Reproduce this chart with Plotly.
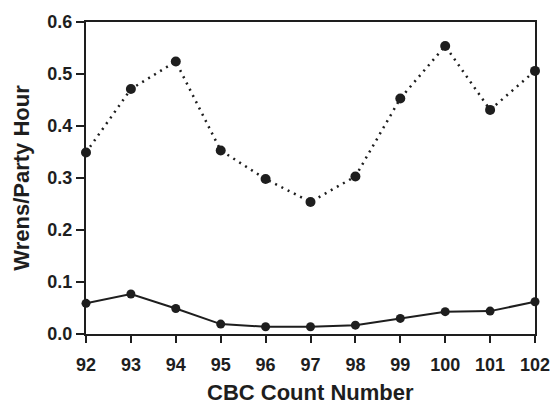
import plotly.graph_objects as go

counts = [92, 93, 94, 95, 96, 97, 98, 99, 100, 101, 102]
upper_series = [0.349, 0.471, 0.524, 0.353, 0.298, 0.254, 0.303, 0.453, 0.554, 0.431, 0.506]
lower_series = [0.059, 0.077, 0.049, 0.019, 0.014, 0.014, 0.017, 0.030, 0.043, 0.044, 0.062]
y_ticks = [0.0, 0.1, 0.2, 0.3, 0.4, 0.5, 0.6]
y_tick_labels = ["0.0", "0.1", "0.2", "0.3", "0.4", "0.5", "0.6"]
x_title = "CBC Count Number"
y_title = "Wrens/Party Hour"

ink = "#1e1e1e"
fig = go.Figure()
fig.add_trace(go.Scatter(x=counts, y=upper_series, mode="lines+markers",
                         line=dict(color=ink, width=2.5, dash="2px,5px"),
                         marker=dict(color=ink, size=10), cliponaxis=False))
fig.add_trace(go.Scatter(x=counts, y=lower_series, mode="lines+markers",
                         line=dict(color=ink, width=2),
                         marker=dict(color=ink, size=9), cliponaxis=False))

font = dict(family="Liberation Sans, Arial, sans-serif", size=18, color=ink)
fig.update_layout(
    width=551, height=406, showlegend=False,
    margin=dict(l=86, r=16, t=22, b=72, autoexpand=False),
    paper_bgcolor="white", plot_bgcolor="white",
    font=font,
)
fig.add_annotation(text=f"<b>{x_title}</b>", xref="paper", yref="paper", x=0.5, y=0,
                   yanchor="middle", yshift=-58, showarrow=False, font=dict(size=22))
fig.update_xaxes(range=[92, 102], tickvals=counts, ticktext=[f"<b>{c}</b>" for c in counts],
                 showline=True, linecolor=ink, linewidth=2, mirror=True,
                 ticks="outside", ticklen=7, tickwidth=2, tickcolor=ink,
                 ticklabelstandoff=6,
                 showgrid=False, zeroline=False, automargin=False)
fig.update_yaxes(range=[0, 0.6], tickvals=y_ticks, ticktext=[f"<b>{t}</b>" for t in y_tick_labels],
                 showline=True, linecolor=ink, linewidth=2, mirror=True,
                 ticks="outside", ticklen=8, tickwidth=2, tickcolor=ink,
                 showgrid=False, zeroline=False, automargin=False,
                 title=dict(text=f"<b>{y_title}</b>", font=dict(size=22), standoff=12))
fig.write_html("out.html", config={"displayModeBar": False},
               post_script="document.body.style.margin='0px';document.body.style.overflow='hidden';")
